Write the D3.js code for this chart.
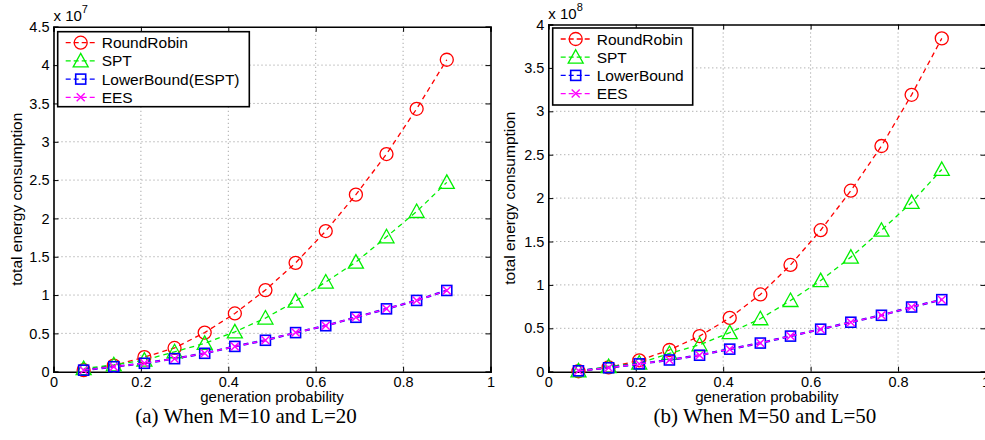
<!DOCTYPE html>
<html>
<head>
<meta charset="utf-8">
<script src="https://cdn.jsdelivr.net/npm/d3@7"></script>
<style>
  body { margin: 0; background: #fff; }
  svg { display: block; font-family: "Liberation Sans", Arial, sans-serif; }
</style>
</head>
<body>
<div id="chart"></div>
<script>
// generation probability (x) values
const probs = [0.069, 0.138, 0.208, 0.277, 0.346, 0.415, 0.485, 0.554, 0.623, 0.692, 0.762, 0.831, 0.9];

// panel (a): M=10, L=20, values x 10^7
const rrA  = [0.02, 0.08, 0.19, 0.31, 0.51, 0.76, 1.065, 1.42, 1.835, 2.31, 2.84, 3.43, 4.07];
const sptA = [0.04, 0.09, 0.15, 0.26, 0.37, 0.52, 0.70, 0.92, 1.17, 1.43, 1.76, 2.09, 2.47];
const lbA  = [0.02, 0.065, 0.11, 0.17, 0.24, 0.33, 0.41, 0.51, 0.60, 0.71, 0.82, 0.93, 1.06];
const eesA = [0.02, 0.065, 0.11, 0.17, 0.24, 0.33, 0.41, 0.51, 0.60, 0.71, 0.82, 0.93, 1.06];

// panel (b): M=50, L=50, values x 10^8
const rrB  = [0.005, 0.05, 0.13, 0.25, 0.41, 0.62, 0.89, 1.23, 1.63, 2.085, 2.60, 3.19, 3.84];
const sptB = [0.01, 0.06, 0.10, 0.21, 0.31, 0.45, 0.61, 0.82, 1.05, 1.32, 1.63, 1.95, 2.33];
const lbB  = [0.01, 0.045, 0.09, 0.135, 0.19, 0.26, 0.33, 0.41, 0.49, 0.57, 0.65, 0.745, 0.83];
const eesB = [0.01, 0.045, 0.09, 0.135, 0.19, 0.26, 0.33, 0.41, 0.49, 0.57, 0.65, 0.745, 0.83];

const xTicks = [0, 0.2, 0.4, 0.6, 0.8, 1];
const xTickLabels = ['0', '0.2', '0.4', '0.6', '0.8', '1'];
const yTicksA = [0, 0.5, 1, 1.5, 2, 2.5, 3, 3.5, 4, 4.5];
const yTickLabelsA = ['0', '0.5', '1', '1.5', '2', '2.5', '3', '3.5', '4', '4.5'];
const yTicksB = [0, 0.5, 1, 1.5, 2, 2.5, 3, 3.5, 4];
const yTickLabelsB = ['0', '0.5', '1', '1.5', '2', '2.5', '3', '3.5', '4'];

const namesA = ['RoundRobin', 'SPT', 'LowerBound(ESPT)', 'EES'];
const namesB = ['RoundRobin', 'SPT', 'LowerBound', 'EES'];

const colors = ['#ff0000', '#00f000', '#0000ff', '#ff00ff'];
const shapes = ['circle', 'triangle', 'square', 'cross'];

const W = 985, H = 440;
const svg = d3.select('#chart').append('svg')
    .attr('width', W)
    .attr('height', H);
svg.append('rect').attr('width', W).attr('height', H).attr('fill', '#fff');

// draws one marker shape centred on (0,0)
const drawMarker = (g, shape, color) => {
    if (shape === 'circle') {
        g.append('circle').attr('r', 6.5)
            .attr('fill', 'none').attr('stroke', color).attr('stroke-width', 1.3);
    } else if (shape === 'triangle') {
        g.append('path').attr('d', 'M0,-7.5L7.5,6L-7.5,6Z')
            .attr('fill', 'none').attr('stroke', color).attr('stroke-width', 1.3);
    } else if (shape === 'square') {
        g.append('rect').attr('x', -5).attr('y', -5).attr('width', 10).attr('height', 10)
            .attr('fill', 'none').attr('stroke', color).attr('stroke-width', 1.6);
    } else {
        g.append('path').attr('d', 'M-4,-4L4,4M-4,4L4,-4')
            .attr('fill', 'none').attr('stroke', color).attr('stroke-width', 1.4);
    }
};

/**
 * Draws one panel of the figure
 */
const drawPanel = (p) => {
    const x = d3.scaleLinear().domain([0, 1]).range([p.left, p.right]);
    const y = d3.scaleLinear().domain([0, p.yMax]).range([p.bottom, p.top]);
    const g = svg.append('g');

    // dotted grid
    g.selectAll('.gx').data(xTicks.slice(1, -1)).enter().append('line')
        .attr('x1', d => x(d)).attr('x2', d => x(d))
        .attr('y1', p.top).attr('y2', p.bottom)
        .attr('stroke', '#777').attr('stroke-width', 0.8).attr('stroke-dasharray', '1,3');
    g.selectAll('.gy').data(p.yTicks.slice(1, -1)).enter().append('line')
        .attr('x1', p.left).attr('x2', p.right)
        .attr('y1', d => y(d)).attr('y2', d => y(d))
        .attr('stroke', '#777').attr('stroke-width', 0.8).attr('stroke-dasharray', '1,3');

    // axes with inward ticks
    const xAxis = d3.axisBottom(x).tickValues(xTicks).tickSize(-5).tickPadding(5)
        .tickFormat((d, i) => xTickLabels[i]);
    const yAxis = d3.axisLeft(y).tickValues(p.yTicks).tickSize(-5).tickPadding(4)
        .tickFormat((d, i) => p.yTickLabels[i]);
    const xTop = d3.axisTop(x).tickValues(xTicks).tickSize(-5).tickFormat('');
    const yRight = d3.axisRight(y).tickValues(p.yTicks).tickSize(-5).tickFormat('');

    [
        [xAxis, `translate(0,${p.bottom})`],
        [yAxis, `translate(${p.left},0)`],
        [xTop, `translate(0,${p.top})`],
        [yRight, `translate(${p.right},0)`]
    ].forEach(([ax, tr]) => {
        const a = g.append('g').attr('transform', tr).call(ax);
        a.select('.domain').attr('stroke', '#000').attr('stroke-width', 1.6);
        a.selectAll('.tick line').attr('stroke', '#000').attr('stroke-width', 1);
        a.selectAll('.tick text').attr('fill', '#000').style('font-size', '14.5px')
            .style('font-family', '"Liberation Sans", Arial, sans-serif');
    });

    // exponent label
    const ex = g.append('text')
        .attr('x', p.left)
        .attr('y', p.top - 6)
        .style('font-size', '15px')
        .text('x 10');
    ex.append('tspan').attr('dy', -8).style('font-size', '11px').text(p.exponent);

    // axis labels
    g.append('text')
        .attr('x', (p.left + p.right) / 2)
        .attr('y', p.bottom + 30)
        .attr('text-anchor', 'middle')
        .style('font-size', '15px')
        .text('generation probability');
    g.append('text')
        .attr('transform', `translate(${p.yLabelX},${(p.top + p.bottom) / 2}) rotate(-90)`)
        .attr('text-anchor', 'middle')
        .style('font-size', '15.5px')
        .text('total energy consumption');

    // caption
    g.append('text')
        .attr('x', p.captionX)
        .attr('y', 423)
        .attr('text-anchor', 'middle')
        .style('font-family', '"Liberation Serif", "Times New Roman", serif')
        .style('font-size', '21px')
        .text(p.caption);

    // series
    const line = d3.line().x(d => x(d[0])).y(d => y(d[1]));
    const widths = [1.3, 1.3, 2.2, 1.4];
    p.series.forEach((vals, si) => {
        const pts = probs.map((px, i) => [px, vals[i]]);
        g.append('path').datum(pts)
            .attr('d', line)
            .attr('fill', 'none')
            .attr('stroke', colors[si])
            .attr('stroke-width', widths[si])
            .attr('stroke-dasharray', '5,4');
        pts.forEach(pt => {
            const m = g.append('g').attr('transform', `translate(${x(pt[0])},${y(pt[1])})`);
            drawMarker(m, shapes[si], colors[si]);
        });
    });

    // legend
    const lg = g.append('g');
    lg.append('rect')
        .attr('x', p.legend.x).attr('y', p.legend.y)
        .attr('width', p.legend.w).attr('height', p.legend.h)
        .attr('fill', '#fff').attr('stroke', '#000').attr('stroke-width', 1.6);
    p.names.forEach((name, i) => {
        const cy = p.legend.y + 11 + i * 18.2;
        const lx = p.legend.x + 8;
        lg.append('line')
            .attr('x1', lx).attr('x2', lx + 29)
            .attr('y1', cy).attr('y2', cy)
            .attr('stroke', colors[i]).attr('stroke-width', 1.3)
            .attr('stroke-dasharray', '5,3');
        const m = lg.append('g').attr('transform', `translate(${lx + 15},${cy})`);
        drawMarker(m, shapes[i], colors[i]);
        lg.append('text')
            .attr('x', lx + 36)
            .attr('y', cy + 5.5)
            .style('font-size', '15.5px')
            .text(name);
    });
};

drawPanel({
    left: 53.5, right: 490.5, top: 26.8, bottom: 371.7,
    yMax: 4.5, yTicks: yTicksA, yTickLabels: yTickLabelsA,
    exponent: '7', yLabelX: 22, captionX: 246,
    caption: '(a) When M=10 and L=20',
    series: [rrA, sptA, lbA, eesA], names: namesA,
    legend: { x: 57.7, y: 31.7, w: 191.6, h: 75 }
});

drawPanel({
    left: 548.3, right: 985.5, top: 24.5, bottom: 371.7,
    yMax: 4, yTicks: yTicksB, yTickLabels: yTickLabelsB,
    exponent: '8', yLabelX: 515, captionX: 765,
    caption: '(b) When M=50 and L=50',
    series: [rrB, sptB, lbB, eesB], names: namesB,
    legend: { x: 552.7, y: 28, w: 140, h: 77 }
});
</script>
</body>
</html>
